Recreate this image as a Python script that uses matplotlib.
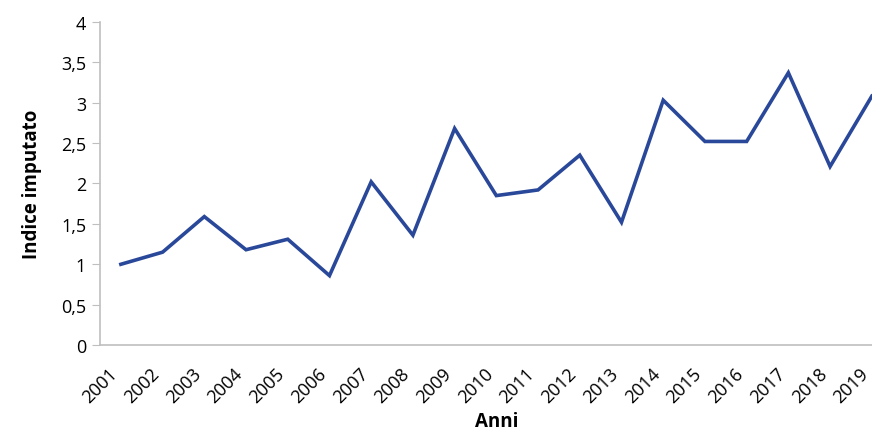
import matplotlib

matplotlib.use("Agg")
import matplotlib.pyplot as plt
from matplotlib.ticker import FuncFormatter
from matplotlib.transforms import ScaledTranslation

YEARS = [str(y) for y in range(2001, 2020)]
VALUES = [1.00, 1.15, 1.59, 1.18, 1.31, 0.86, 2.02, 1.36, 2.68, 1.85,
          1.92, 2.35, 1.52, 3.03, 2.52, 2.52, 3.37, 2.21, 3.08]
LINE_COLOR = "#2a4899"
AXIS_COLOR = "#bfbfbf"

plt.rcParams["font.family"] = ["Open Sans", "DejaVu Sans"]

fig = plt.figure(figsize=(8.72, 4.31), dpi=100)
ax = fig.add_axes([0.1147, 0.197, 0.909, 0.750])

x = list(range(len(YEARS)))
ax.plot(x, VALUES, color=LINE_COLOR, linewidth=2.6, solid_joinstyle="miter")

ax.set_xlim(-0.5, len(YEARS) - 0.5)
ax.set_ylim(0, 4)
ax.set_yticks([0, 0.5, 1, 1.5, 2, 2.5, 3, 3.5, 4])
ax.yaxis.set_major_formatter(
    FuncFormatter(lambda v, _: f"{v:g}".replace(".", ","))
)
ax.set_xticks(x)
ax.set_xticklabels(YEARS, rotation=45, ha="right", va="center",
                   rotation_mode="anchor")

ax.tick_params(axis="y", length=6, color=AXIS_COLOR, labelsize=13, pad=4)
ax.tick_params(axis="x", length=0, labelsize=13, pad=18)

# nudge the rotated year labels a little left so 2019 stays inside the figure
shift = ScaledTranslation(-6 / 100, 0, fig.dpi_scale_trans)
for label in ax.get_xticklabels():
    label.set_transform(label.get_transform() + shift)

for side in ("top", "right"):
    ax.spines[side].set_visible(False)
for side in ("left", "bottom"):
    ax.spines[side].set_color(AXIS_COLOR)
    ax.spines[side].set_linewidth(1.2)

ax.set_ylabel("Indice imputato", fontsize=13.5, fontweight="bold", labelpad=14)
ax.set_xlabel("Anni", fontsize=13.5, fontweight="bold", labelpad=4)

fig.savefig("out.png", dpi=100)
